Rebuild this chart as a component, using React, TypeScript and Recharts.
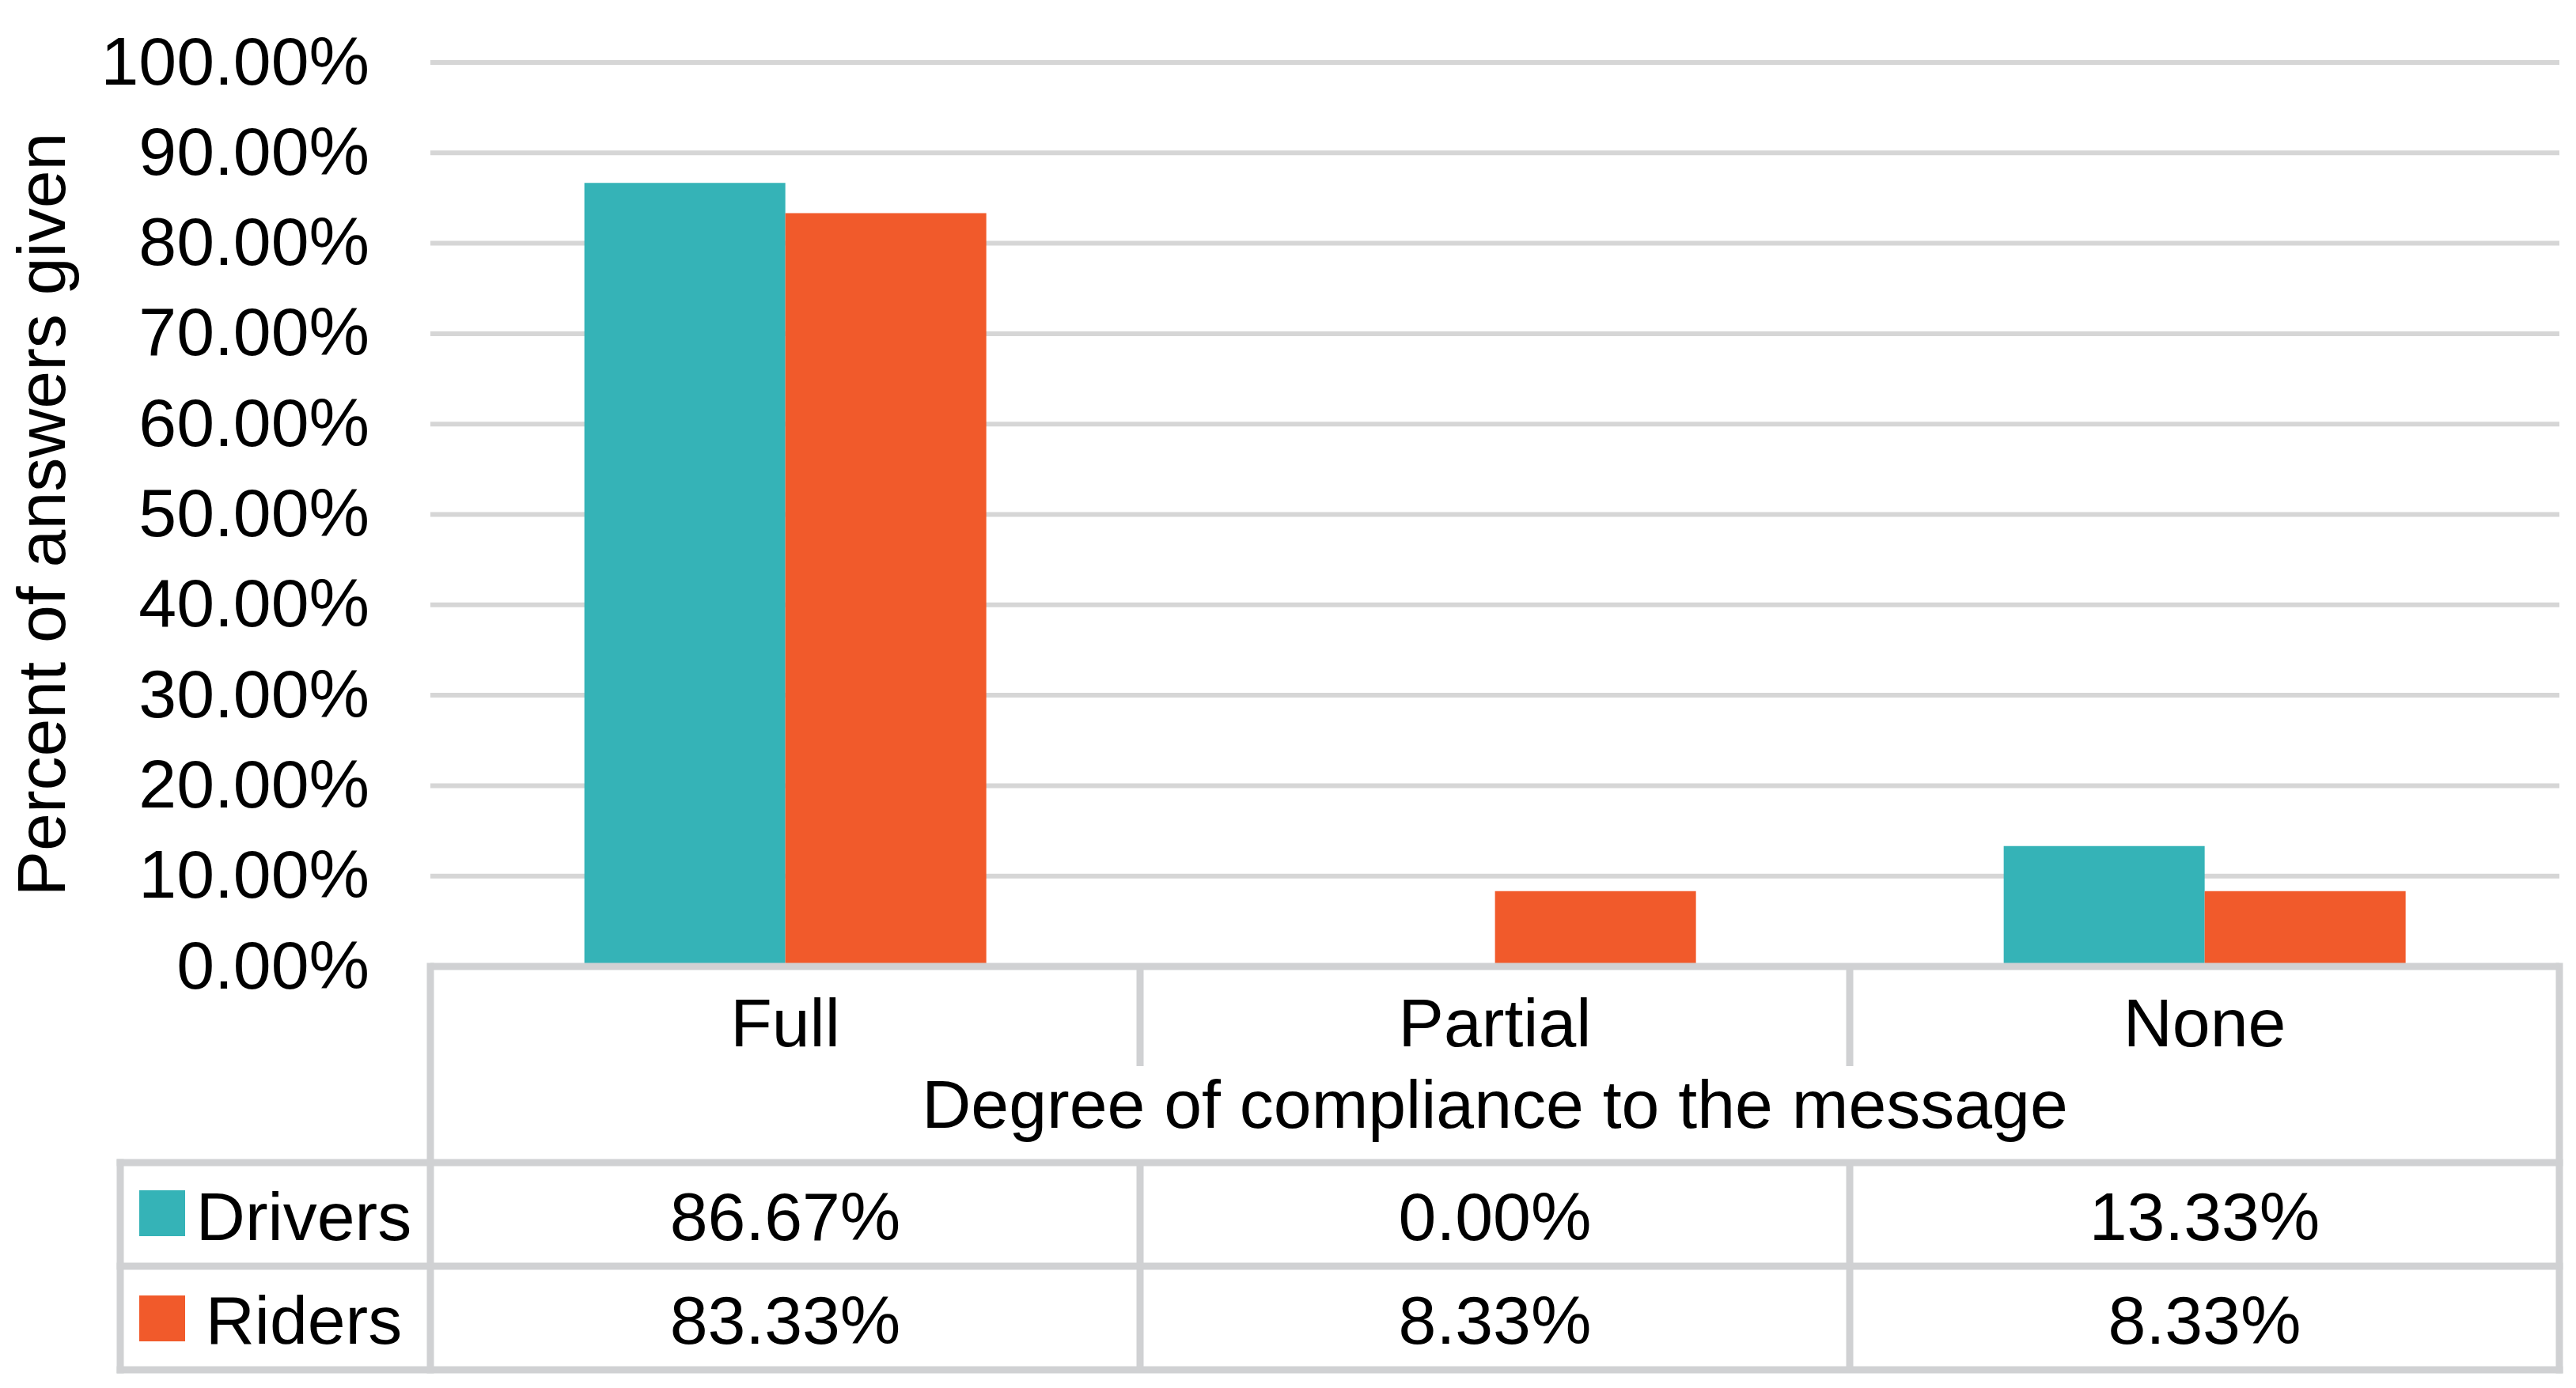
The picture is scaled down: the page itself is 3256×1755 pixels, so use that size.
import React from "react";
import { BarChart, Bar, XAxis, YAxis, CartesianGrid } from "recharts";

const categories = ["Full", "Partial", "None"];
const seriesNames = ["Drivers", "Riders"];
const driversValues = [86.67, 0, 13.33];
const ridersValues = [83.33, 8.33, 8.33];
const yTicks = [0, 10, 20, 30, 40, 50, 60, 70, 80, 90, 100];
const yAxisTitle = "Percent of answers given";
const xAxisTitle = "Degree of compliance to the message";

const TEAL = "#35B3B7";
const ORANGE = "#F15A2B";
const GRID = "#D6D6D6";
const RULE = "#D0D1D3";
const FONT = "'Liberation Sans', Arial, sans-serif";
const FS = 86;

const W = 3256;
const H = 1755;
const PLOT_LEFT = 544;
const PLOT_TOP = 79;
const RIGHT = 21;
const AXIS_H = 533;

// table rows below the x axis line
const ROW1 = 248;
const ROW2 = 379;
const ROW3 = 510;
const HEADER_SEP = 126;
const LEGEND_W = 392;

const data = categories.map((name, i) => ({
  name,
  drivers: driversValues[i],
  riders: ridersValues[i],
}));

const fmt = (v: number) => `${v.toFixed(2)}%`;

const TableTick = (props: any) => {
  const { x, y, payload } = props;
  const i = categories.indexOf(payload.value);
  const half =
    payload.offset > 0
      ? payload.offset
      : (W - PLOT_LEFT - RIGHT) / categories.length / 2;
  return (
    <g>
      {i > 0 && (
        <g stroke={RULE} strokeWidth={9}>
          <line x1={x - half} x2={x - half} y1={y} y2={y + HEADER_SEP} />
          <line x1={x - half} x2={x - half} y1={y + ROW1} y2={y + ROW3} />
        </g>
      )}
      <g fontFamily={FONT} fontSize={FS} fill="#000" textAnchor="middle">
        <text x={x} y={y + 101}>{payload.value}</text>
        <text x={x} y={y + 346}>{fmt(driversValues[i])}</text>
        <text x={x} y={y + 477}>{fmt(ridersValues[i])}</text>
      </g>
    </g>
  );
};

const TableFrame = (props: any) => {
  const vb = props.viewBox || {};
  const x0 = vb.x ?? PLOT_LEFT;
  const y0 = vb.y ?? H - AXIS_H;
  const w = vb.width ?? W - PLOT_LEFT - RIGHT;
  const left = x0 - LEGEND_W;
  return (
    <g>
      <g stroke={RULE} strokeWidth={9} strokeLinecap="square">
        {[ROW1, ROW2, ROW3].map((r) => (
          <line key={r} x1={left} x2={x0 + w} y1={y0 + r} y2={y0 + r} />
        ))}
        <line x1={left} x2={left} y1={y0 + ROW1} y2={y0 + ROW3} />
        <line x1={x0} x2={x0} y1={y0} y2={y0 + ROW3} />
        <line x1={x0 + w} x2={x0 + w} y1={y0} y2={y0 + ROW3} />
      </g>
      <rect x={x0 - 368} y={y0 + 283} width={58} height={58} fill={TEAL} />
      <rect x={x0 - 368} y={y0 + 416} width={58} height={58} fill={ORANGE} />
      <g fontFamily={FONT} fontSize={FS} fill="#000" textAnchor="middle">
        <text x={x0 - 160} y={y0 + 346}>{seriesNames[0]}</text>
        <text x={x0 - 160} y={y0 + 477}>{seriesNames[1]}</text>
        <text x={x0 + w / 2} y={y0 + 204}>{xAxisTitle}</text>
      </g>
    </g>
  );
};

const YTitle = (props: any) => {
  const vb = props.viewBox || {};
  const top = vb.y ?? PLOT_TOP;
  const height = vb.height ?? H - AXIS_H - PLOT_TOP;
  const cy = top + height / 2;
  const cx = 82;
  return (
    <text
      x={cx}
      y={cy}
      transform={`rotate(-90, ${cx}, ${cy})`}
      textAnchor="middle"
      fontFamily={FONT}
      fontSize={FS}
      fill="#000"
    >
      {yAxisTitle}
    </text>
  );
};

export default function App() {
  return (
    <div>
      <style>{"body{margin:0;background:#fff}"}</style>
      <BarChart
        width={W}
        height={H}
        data={data}
        margin={{ top: PLOT_TOP, right: RIGHT, bottom: 0, left: 0 }}
        barGap={0}
        barCategoryGap="21.7%"
      >
        <CartesianGrid vertical={false} stroke={GRID} strokeWidth={6} />
        <XAxis
          dataKey="name"
          height={AXIS_H}
          interval={0}
          tickLine={false}
          tickSize={0}
          tickMargin={0}
          axisLine={{ stroke: RULE, strokeWidth: 9 }}
          tick={TableTick}
          label={TableFrame}
        />
        <YAxis
          width={PLOT_LEFT}
          domain={[0, 100]}
          ticks={yTicks}
          interval={0}
          tickFormatter={fmt}
          axisLine={false}
          tickLine={false}
          tickSize={0}
          tickMargin={77}
          tick={{ fontFamily: FONT, fontSize: FS, fill: "#000", dy: -3 }}
          label={YTitle}
        />
        <Bar dataKey="drivers" name={seriesNames[0]} fill={TEAL} isAnimationActive={false} />
        <Bar dataKey="riders" name={seriesNames[1]} fill={ORANGE} isAnimationActive={false} />
      </BarChart>
    </div>
  );
}
